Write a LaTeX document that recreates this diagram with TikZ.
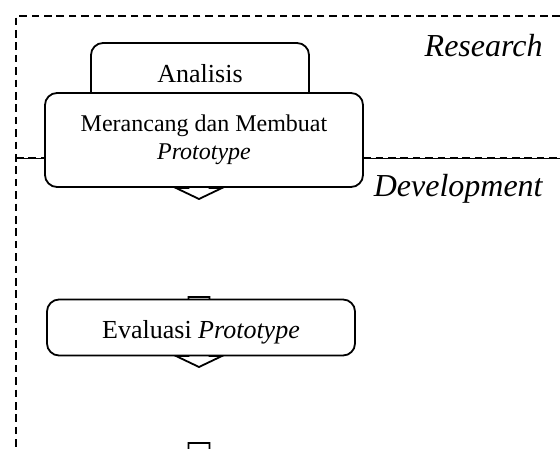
\documentclass[tikz,border=0pt]{standalone}
\usepackage{fontspec}
\setmainfont{Liberation Serif}
\usetikzlibrary{positioning}

\tikzset{
  stage/.style={draw, fill=white, rounded corners=6pt, line width=0.9pt,
    align=center, inner sep=0pt, font=\fontsize{13}{15}\selectfont},
  zone/.style={dash pattern=on 3.8pt off 2.4pt, line width=0.65pt},
  zonelabel/.style={font=\fontsize{16}{18}\selectfont\itshape,
    anchor=base east, inner sep=0pt},
  blockarrow/.style={draw, fill=white, line width=0.9pt, line join=miter}
}
% block arrow pointing down: x, tail y, tip y
\newcommand{\downblock}[3]{%
  \draw[blockarrow] ({#1-5.25},#2) -- ({#1+5.25},#2) -- ({#1+5.25},{#3+5.5})
    -- ({#1+11.5},{#3+5.5}) -- (#1,#3) -- ({#1-11.5},{#3+5.5})
    -- ({#1-5.25},{#3+5.5}) -- cycle;}

\begin{document}
\begin{tikzpicture}[x=1pt, y=1pt]
  \useasboundingbox (0,0) rectangle (280,-224);
  \clip (0,0) rectangle (280,-224);

  % research / development zones
  \draw[zone] (280,-8) -- (8,-8) -- (8,-230);
  \draw[line width=0.3pt] (8,-79) -- (280,-79);
  \draw[zone] (8,-79) -- (280,-79);
  \node[zonelabel] (research) at (271.5,-28.5) {Research};
  \node[zonelabel] (development) at (271.5,-98.5) {Development};

  % arrows behind the boxes
  \downblock{99.5}{-64.5}{-99.5}
  \downblock{99.5}{-148.5}{-183.5}
  \downblock{99.5}{-221.5}{-256.5}

  \node[stage, minimum width=109pt, minimum height=31pt] (analisis)
    at (100,-37) {Analisis};
  \node[stage, minimum width=159pt, minimum height=47pt,
    font=\fontsize{12}{14}\selectfont] (rancang)
    at (102,-70) {Merancang dan Membuat\\\textit{Prototype}};
  \node[stage, minimum width=154pt, minimum height=28pt,
    text height=11pt, text depth=0pt] (evaluasi)
    at (100.5,-163.75) {Evaluasi \textit{Prototype}};
\end{tikzpicture}
\end{document}
